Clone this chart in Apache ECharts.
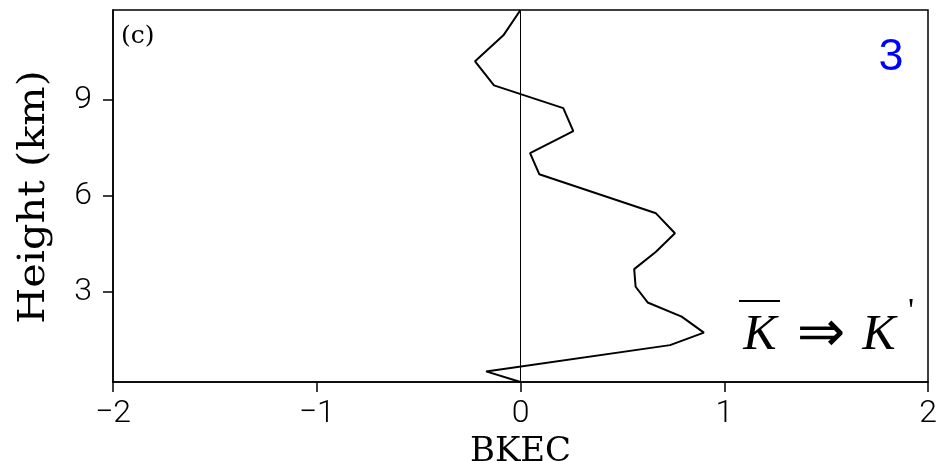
<!DOCTYPE html>
<html>
<head>
<meta charset="utf-8">
<script src="https://cdn.jsdelivr.net/npm/echarts@6/dist/echarts.min.js"></script>
<style>
  html, body { margin: 0; padding: 0; background: #fff; }
  #chart { width: 938px; height: 461px; }
</style>
</head>
<body>
<div id="chart"></div>
<script>
// Vertical profile of BKEC (mean-to-eddy kinetic energy conversion), top to bottom
const heightKm = [11.8, 11.01, 10.2, 9.45, 8.74, 8.02, 7.34, 6.68, 5.46, 4.84, 4.26, 3.72, 3.17, 2.68, 2.24, 1.74, 1.35, 0.53, 0.2];
const bkec     = [0.0, -0.084, -0.223, -0.13, 0.21, 0.259, 0.047, 0.092, 0.665, 0.758, 0.665, 0.558, 0.565, 0.624, 0.791, 0.90, 0.734, -0.169, 0.0];

const xTicks = [-2, -1, 0, 1, 2];
const yTicks = [3, 6, 9];
const panelTag = '(c)';
const caseNumber = '3';
const xTitle = 'BKEC';
const yTitle = 'Height (km)';

const tickFont = "'Liberation Sans Narrow', 'Roboto', 'Liberation Sans', sans-serif";
const serif = "'DejaVu Serif', serif";
const mathFont = "'Liberation Serif', 'DejaVu Serif', serif";

const points = bkec.map((v, i) => [v, heightKm[i]]);

const chart = echarts.init(document.getElementById('chart'), null, { renderer: 'canvas' });

chart.setOption({
  animation: false,
  backgroundColor: '#ffffff',
  grid: {
    left: 113, right: 10, top: 10, bottom: 79,
    outerBoundsMode: 'none',
    containLabel: false,
    show: true, borderColor: '#000', borderWidth: 1.5, backgroundColor: 'transparent'
  },
  xAxis: {
    type: 'value',
    min: xTicks[0], max: xTicks[xTicks.length - 1], interval: 1,
    splitLine: { show: false },
    axisLine: { show: true, onZero: false, lineStyle: { color: '#000', width: 1.5 } },
    axisTick: { show: true, inside: false, length: 10, lineStyle: { color: '#000', width: 1.5 } },
    axisLabel: {
      color: '#000', fontFamily: tickFont, fontSize: 32, fontWeight: 300, margin: 16,
      formatter: v => (v < 0 ? '\u2212' + Math.abs(v) : String(v))
    },
    name: xTitle,
    nameLocation: 'middle',
    nameGap: 46,
    nameTextStyle: { color: '#000', fontFamily: serif, fontSize: 34 }
  },
  yAxis: {
    type: 'value',
    min: 0.2, max: 11.8,
    splitLine: { show: false },
    axisLine: { show: true, onZero: false, lineStyle: { color: '#000', width: 1.5 } },
    axisTick: { show: true, inside: false, length: 10, customValues: yTicks, lineStyle: { color: '#000', width: 1.5 } },
    axisLabel: {
      color: '#000', fontFamily: tickFont, fontSize: 32, fontWeight: 300, margin: 21,
      customValues: yTicks
    }
  },
  series: [{
    type: 'line',
    data: points,
    showSymbol: false,
    symbol: 'none',
    lineStyle: { color: '#000', width: 2 },
    markLine: {
      silent: true,
      symbol: 'none',
      label: { show: false },
      lineStyle: { color: '#000', width: 1, type: 'solid' },
      data: [{ xAxis: 0 }]
    }
  }],
  graphic: [
    {
      type: 'text',
      x: 34, y: 197,
      rotation: Math.PI / 2,
      scaleX: 1.09,
      style: {
        text: yTitle, fill: '#000',
        font: "38px 'DejaVu Serif', serif",
        textAlign: 'center', textVerticalAlign: 'middle'
      }
    },
    {
      type: 'text',
      x: 121, y: 36,
      style: {
        text: panelTag, fill: '#000',
        font: "25px 'DejaVu Serif', serif",
        textAlign: 'left', textVerticalAlign: 'middle'
      }
    },
    {
      type: 'text',
      x: 891, y: 58,
      style: {
        text: caseNumber, fill: '#0000ff',
        font: "45px 'Liberation Sans', sans-serif",
        textAlign: 'center', textVerticalAlign: 'middle'
      }
    },
    // K-bar => K' annotation
    {
      type: 'line',
      shape: { x1: 739, y1: 301, x2: 780, y2: 301 },
      style: { stroke: '#000', lineWidth: 2 }
    },
    {
      type: 'text',
      x: 760, y: 336,
      style: { text: 'K', fill: '#000', font: "italic 50px " + mathFont, textAlign: 'center', textVerticalAlign: 'middle' }
    },
    {
      type: 'text',
      x: 821, y: 336,
      style: { text: '\u21D2', fill: '#000', font: "58px 'DejaVu Sans', sans-serif", textAlign: 'center', textVerticalAlign: 'middle' }
    },
    {
      type: 'text',
      x: 879, y: 336,
      style: { text: 'K', fill: '#000', font: "italic 50px " + mathFont, textAlign: 'center', textVerticalAlign: 'middle' }
    },
    {
      type: 'text',
      x: 911, y: 312,
      style: { text: '\'', fill: '#000', font: "34px " + mathFont, textAlign: 'center', textVerticalAlign: 'middle' }
    }
  ]
});
</script>
</body>
</html>
